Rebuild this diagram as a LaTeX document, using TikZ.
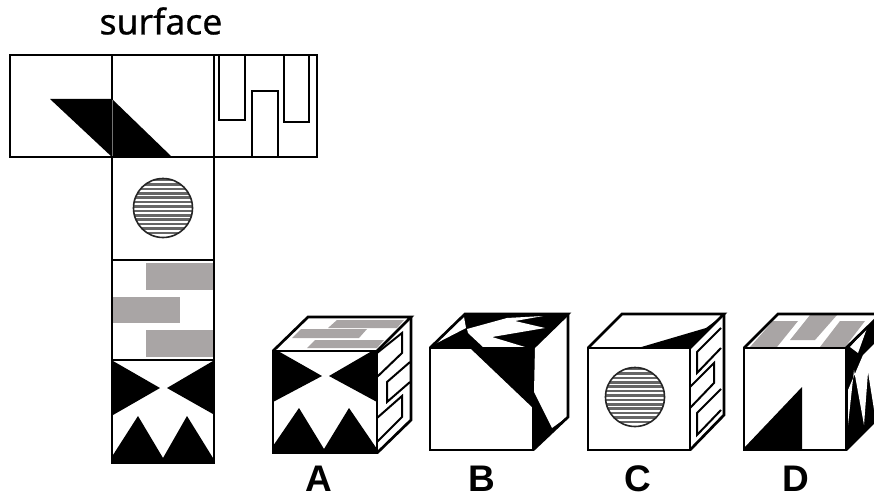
\documentclass[tikz,border=0pt]{standalone}
\usepackage{fontspec}
\setmainfont[FakeBold=0.6]{Noto Sans}
\newfontfamily\labelfont[BoldFont={Liberation Sans Bold}]{Liberation Sans}
\definecolor{bargray}{HTML}{A9A5A5}
\tikzset{
  frame/.style={draw=black,line width=2.7pt,line join=miter},
  thinframe/.style={draw=black,line width=2pt},
  solid black/.style={fill=black,draw=none},
  solid white/.style={fill=white,draw=none},
  bar/.style={fill=bargray,draw=none},
  answer/.style={font=\labelfont\bfseries\fontsize{37}{37}\selectfont,inner sep=0pt}
}
\newcommand{\hatchdisc}[2]{%
  \begin{scope}
    \clip (#1,#2) circle (29.5);
    \foreach \dy in {-28,-23.6,...,29}
      \draw[line width=2.6pt,black!60] ({#1-31},{#2+\dy}) -- ++(62,0);
  \end{scope}
  \draw[black!85,line width=1.6pt] (#1,#2) circle (29.5);
}
\begin{document}
\begin{tikzpicture}[x=1pt,y=-1pt]
  \clip (0,0) rectangle (874,500);
  \fill[white] (0,0) rectangle (874,500);
  \node[inner sep=0pt,font=\fontsize{35.5}{36}\selectfont] (surfacelabel) at (161,21) {surface};
  % net
  \path[solid black] (50,99) -- (112,99) -- (172,157) -- (112,157) -- cycle;
  \hatchdisc{163}{208}
  \path[bar] (146,263) rectangle (213,290);
  \path[bar] (113,297) rectangle (180,323);
  \path[bar] (146,330) rectangle (213,357);
  \path[solid black] (113,361) -- (160,388) -- (113,415) -- cycle;
  \path[solid black] (213,361) -- (167,388) -- (213,414) -- cycle;
  \path[solid black] (113,463) -- (113,455) -- (138,416) -- (163,458) -- (187,416) -- (213,458) -- (213,463) -- cycle;
  \draw[frame] (10,55) rectangle (317,157);
  \draw[frame] (112,55) -- (112,463) -- (214,463) -- (214,55);
  \draw[frame] (112,260) -- (214,260) (112,360) -- (214,360);
  \draw[black!55,line width=1pt] (112,100) -- (112,156);
  \draw[thinframe] (219,55) |- (245,120) -- (245,55);
  \draw[thinframe] (252,157) |- (278,91) -- (278,157);
  \draw[thinframe] (284,55) |- (309,122) -- (309,55);
  % cube A
  \path[bar] (337,320) -- (404,320) -- (397,328) -- (328,328) -- cycle;
  \path[bar] (301,329) -- (367,329) -- (359,338) -- (292,338) -- cycle;
  \path[bar] (315,340) -- (384,340) -- (377,348) -- (307,348) -- cycle;
  \path[solid black] (273,351) -- (278,351) -- (322,376) -- (273,402) -- cycle;
  \path[solid black] (377,351) -- (372,351) -- (329,376) -- (377,402) -- cycle;
  \path[solid black] (273,453) -- (273,446) -- (299,408) -- (324,449) -- (349,408) -- (377,449) -- (377,453) -- cycle;
  \draw[frame] (273,351) rectangle (377,453);
  \draw[frame] (273,351) -- (308,317) -- (411,317) -- (377,351);
  \draw[frame] (411,317) -- (411,420) -- (377,453);
  \draw[thinframe] (377,353) -- (402,333) -- (402,353) -- (377,377);
  \draw[thinframe] (410,362) -- (387,382) -- (387,402) -- (410,382);
  \draw[thinframe] (377,418) -- (402,396) -- (402,417) -- (377,442);
  % cube B
  \path[solid black] (430,348) -- (465,314) -- (568,314) -- (533,348) -- cycle;
  \path[solid white] (464,317) -- (466,328) -- (433,345) -- cycle;
  \path[solid white] (467,329) -- (507,318) -- (543,316) -- (515,321) -- (545,328) -- (492,337) -- (525,347) -- (483,347) -- (468,333) -- cycle;
  \path[solid black] (470,348) -- (533,408) -- (533,348) -- cycle;
  \path[solid black] (533,348) -- (568,314) -- (568,417) -- (533,450) -- cycle;
  \path[solid white] (535,347) -- (567,316) -- (567,417) -- (552,428) -- (534,392) -- cycle;
  \draw[frame] (430,348) rectangle (533,450);
  \draw[frame] (430,348) -- (465,314) -- (568,314) -- (533,348);
  \draw[frame] (568,314) -- (568,417) -- (533,450);
  % cube C
  \path[solid black] (638,348) -- (706,328) -- (722,316) -- (690,348) -- cycle;
  \hatchdisc{635}{397}
  \draw[frame] (588,348) rectangle (690,450);
  \draw[frame] (588,348) -- (622,314) -- (724,314) -- (690,348);
  \draw[frame] (724,314) -- (724,415) -- (690,450);
  \draw[thinframe] (721,328) -- (697,352) -- (697,373) -- (721,348);
  \draw[thinframe] (690,387) -- (714,363) -- (714,383) -- (690,408);
  \draw[thinframe] (721,389) -- (697,413) -- (697,435) -- (721,410);
  % cube D
  \path[bar] (773,321) -- (798,321) -- (777,347) -- (750,347) -- cycle;
  \path[bar] (810,315) -- (837,315) -- (815,340) -- (790,340) -- cycle;
  \path[bar] (840,321) -- (865,321) -- (845,347) -- (820,347) -- cycle;
  \path[solid black] (744,450) -- (744,448) -- (802,387) -- (802,450) -- cycle;
  \path[solid black] (846,348) -- (881,314) -- (881,415) -- (846,450) -- cycle;
  \path[solid white] (850,347) -- (867,328) -- (858,353) -- cycle;
  \path[solid white] (863,355) -- (875,343) -- (875,416) -- (868,372) -- (864,425) -- (854,370) -- (848,425) -- (848,390) -- cycle;
  \draw[frame] (744,348) rectangle (846,450);
  \draw[frame] (744,348) -- (778,314) -- (881,314) -- (846,348);
  \draw[frame] (881,314) -- (881,415) -- (846,450);
  % labels
  \node[answer] (labela) at (319,479) {A};
  \node[answer] (labelb) at (482,479) {B};
  \node[answer] (labelc) at (638,479) {C};
  \node[answer] (labeld) at (796,479) {D};
\end{tikzpicture}
\end{document}
